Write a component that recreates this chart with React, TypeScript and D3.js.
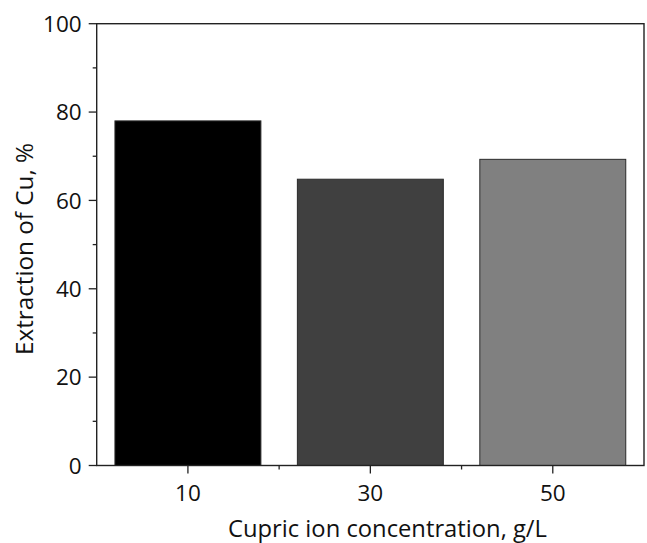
import React from "react";
import * as d3 from "d3";

const categories = [10, 30, 50];
const extraction = [78.0, 64.8, 69.3];
const barColors = ["#000000", "#404040", "#808080"];
const yMajorTicks = [0, 20, 40, 60, 80, 100];
const yMinorTicks = [10, 30, 50, 70, 90];
const xMinorTicks = [20, 40];

const W = 647;
const H = 543;
const M = { left: 96.7, right: 3, top: 23.7, bottom: 77.5 };
const FONT = "'Open Sans', 'Noto Sans', sans-serif";

export default function App() {
  const x = d3.scaleLinear().domain([0, 60]).range([M.left, W - M.right]);
  const y = d3.scaleLinear().domain([0, 100]).range([H - M.bottom, M.top]);
  const barW = 16;
  const x0 = x(0), x1 = x(60), y0 = y(0), y1 = y(100);
  const stroke = "#222";
  return (
    <svg width={W} height={H} style={{ position: "absolute", left: 0, top: 0, background: "#fff" }}>
      {categories.map((c, i) => (
        <rect
          key={c}
          x={x(c - barW / 2)}
          y={y(extraction[i])}
          width={x(c + barW / 2) - x(c - barW / 2)}
          height={y(0) - y(extraction[i])}
          fill={barColors[i]}
          stroke="#2a2a2a"
          strokeWidth={1}
        />
      ))}
      <rect x={x0} y={y1} width={x1 - x0} height={y0 - y1} fill="none" stroke={stroke} strokeWidth={1.4} />
      {yMajorTicks.map((t) => (
        <g key={"ym" + t}>
          <line x1={x0 - 8} x2={x0} y1={y(t)} y2={y(t)} stroke={stroke} strokeWidth={1.3} />
          <text x={x0 - 15} y={y(t)} dy="0.36em" textAnchor="end" fontFamily={FONT} fontSize={22.5} fill="#111">
            {t}
          </text>
        </g>
      ))}
      {yMinorTicks.map((t) => (
        <line key={"yn" + t} x1={x0 - 4} x2={x0} y1={y(t)} y2={y(t)} stroke={stroke} strokeWidth={1.3} />
      ))}
      {categories.map((c) => (
        <g key={"xm" + c}>
          <line x1={x(c)} x2={x(c)} y1={y0} y2={y0 + 8} stroke={stroke} strokeWidth={1.3} />
          <text x={x(c)} y={y0 + 35} textAnchor="middle" fontFamily={FONT} fontSize={22.5} fill="#111">
            {c}
          </text>
        </g>
      ))}
      {xMinorTicks.map((t) => (
        <line key={"xn" + t} x1={x(t)} x2={x(t)} y1={y0} y2={y0 + 4} stroke={stroke} strokeWidth={1.3} />
      ))}
      <text x={387.5} y={537} textAnchor="middle" fontFamily={FONT} fontSize={23.7} textLength={319} lengthAdjust="spacingAndGlyphs" fill="#111">
        Cupric ion concentration, g/L
      </text>
      <text
        transform={`translate(33, 249) rotate(-90)`}
        textAnchor="middle"
        fontFamily={FONT}
        fontSize={23.7}
        textLength={212}
        lengthAdjust="spacingAndGlyphs"
        fill="#111"
      >
        Extraction of Cu, %
      </text>
    </svg>
  );
}
